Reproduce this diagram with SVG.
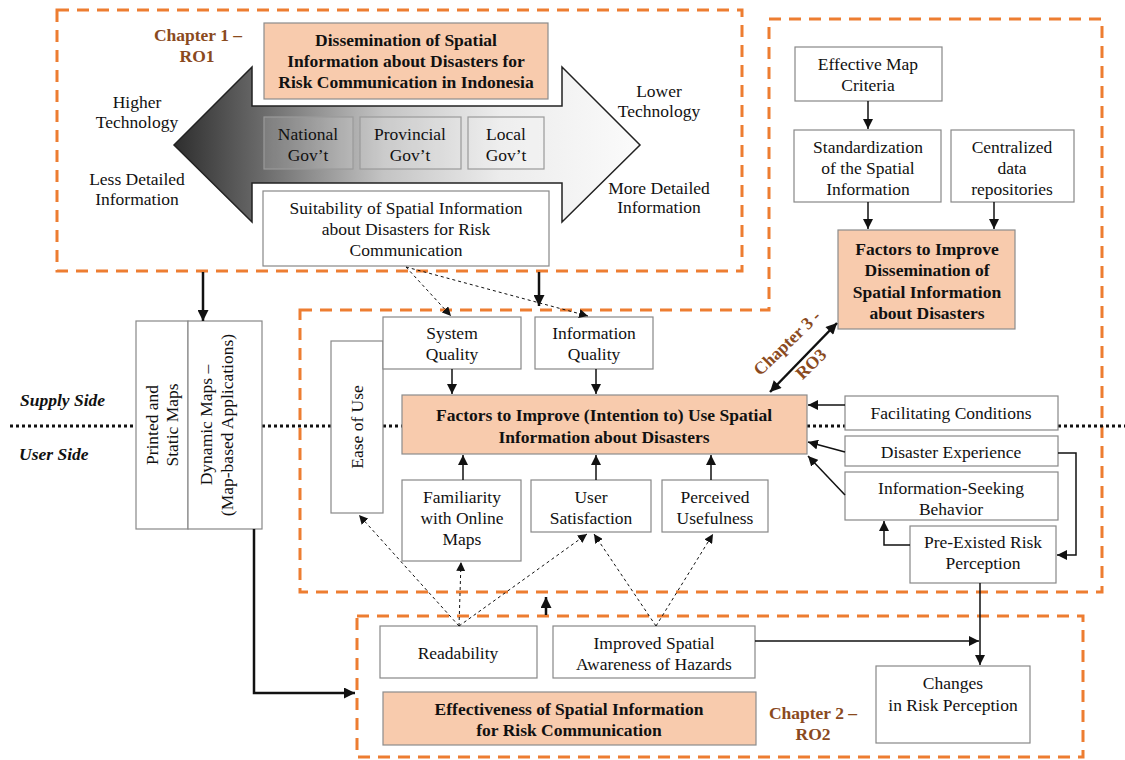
<svg xmlns="http://www.w3.org/2000/svg" width="1125" height="760" viewBox="0 0 1125 760" font-family="'Liberation Serif', 'DejaVu Serif', serif">
<defs>
<style>
text{font-family:'Liberation Serif','DejaVu Serif',serif;font-size:17.5px;fill:#111;text-anchor:middle}
.b{font-weight:bold}
.ch{font-weight:bold;fill:#8a4a1e;font-size:17.5px}
.si{font-weight:bold;font-style:italic;text-anchor:start}
.box{fill:#fff;stroke:#888;stroke-width:1.2}
.or{fill:#f8cbad;stroke:#8c8c8c;stroke-width:1.2}
.gov{fill:#fff;fill-opacity:0.12;stroke:#9a9a9a;stroke-width:1.2}
.dash{fill:none;stroke:#ed7d31;stroke-width:3;stroke-dasharray:12 8}
.dot{fill:none;stroke:#111;stroke-width:3;stroke-dasharray:3 3}
.ln{fill:none;stroke:#111;stroke-width:1.5}
.thk{fill:none;stroke:#111;stroke-width:2.5}
.dsh{fill:none;stroke:#111;stroke-width:1;stroke-dasharray:3 3}
</style>
<linearGradient id="grad" x1="174" y1="0" x2="640" y2="0" gradientUnits="userSpaceOnUse">
<stop offset="0" stop-color="#2e2e2e"/>
<stop offset="0.2" stop-color="#6e6e6e"/>
<stop offset="0.45" stop-color="#c4c4c4"/>
<stop offset="0.7" stop-color="#ececec"/>
<stop offset="1" stop-color="#fbfbfb"/>
</linearGradient>
<marker id="a" viewBox="0 0 10 10" refX="10" refY="5" markerWidth="10" markerHeight="10" markerUnits="userSpaceOnUse" orient="auto-start-reverse"><path d="M0,0 L10,5 L0,10 z" fill="#111"/></marker>
<marker id="at" viewBox="0 0 10 10" refX="10" refY="5" markerWidth="12" markerHeight="11" markerUnits="userSpaceOnUse" orient="auto-start-reverse"><path d="M0,0 L10,5 L0,10 z" fill="#111"/></marker>
<marker id="ad" viewBox="0 0 10 10" refX="10" refY="5" markerWidth="9" markerHeight="9" markerUnits="userSpaceOnUse" orient="auto"><path d="M0,0 L10,5 L0,10 z" fill="#111"/></marker>
</defs>
<rect width="1125" height="760" fill="#fff"/>

<g id="regions">
<rect class="dash" x="57" y="10" width="685" height="261"/>
<path class="dash" d="M300,310 L769,310 L769,19 L1102,19 L1102,592 L300,592 Z"/>
<rect class="dash" x="357" y="616" width="726" height="141"/>
</g>

<g id="divider">
<line class="dot" x1="10" y1="426" x2="136" y2="426"/>
<line class="dot" x1="262" y1="426" x2="331" y2="426"/>
<line class="dot" x1="383" y1="426" x2="402" y2="426"/>
<line class="dot" x1="807" y1="426" x2="845" y2="426"/>
<line class="dot" x1="1058" y1="426" x2="1125" y2="426"/>
<text class="si" x="20" y="406">Supply Side</text>
<text class="si" x="19" y="460">User Side</text>
</g>

<g id="chapter1">
<polygon points="174,145 252,67 252,106 562,106 562,67 640,145 562,222 562,183 252,183 252,222" fill="url(#grad)" stroke="#222" stroke-width="1.5"/>
<text class="ch" x="198" y="41">Chapter 1 –</text>
<text class="ch" x="197" y="62">RO1</text>
<text x="137" y="108">Higher</text>
<text x="137" y="128">Technology</text>
<text x="137" y="185">Less Detailed</text>
<text x="137" y="205">Information</text>
<text x="659" y="97">Lower</text>
<text x="659" y="117">Technology</text>
<text x="659" y="194">More Detailed</text>
<text x="659" y="213">Information</text>
</g>

<g id="n-dissemination">
<rect class="or" x="264" y="23" width="284" height="76"/>
<text class="b" x="406" y="46">Dissemination of Spatial</text>
<text class="b" x="406" y="67">Information about Disasters for</text>
<text class="b" x="406" y="88">Risk Communication in Indonesia</text>
</g>
<g id="n-national"><rect class="gov" x="264" y="117" width="89" height="52"/><text x="308" y="140">National</text><text x="308" y="161">Gov’t</text></g>
<g id="n-provincial"><rect class="gov" x="360" y="117" width="101" height="52"/><text x="410" y="140">Provincial</text><text x="410" y="161">Gov’t</text></g>
<g id="n-local"><rect class="gov" x="468" y="117" width="76" height="52"/><text x="506" y="140">Local</text><text x="506" y="161">Gov’t</text></g>
<g id="n-suitability">
<rect class="box" x="263" y="191" width="286" height="75"/>
<text x="406" y="214">Suitability of Spatial Information</text>
<text x="406" y="235">about Disasters for Risk</text>
<text x="406" y="256">Communication</text>
</g>

<g id="n-effective"><rect class="box" x="795" y="47" width="147" height="54"/><text x="868" y="70">Effective Map</text><text x="868" y="91">Criteria</text></g>
<g id="n-standard"><rect class="box" x="794" y="130" width="147" height="72"/><text x="868" y="153">Standardization</text><text x="868" y="174">of the Spatial</text><text x="868" y="195">Information</text></g>
<g id="n-central"><rect class="box" x="951" y="130" width="123" height="72"/><text x="1012" y="153">Centralized</text><text x="1012" y="174">data</text><text x="1012" y="195">repositories</text></g>
<g id="n-factors-dissem">
<rect class="or" x="838" y="230" width="177" height="99"/>
<text class="b" x="927" y="255">Factors to Improve</text>
<text class="b" x="927" y="276">Dissemination of</text>
<text class="b" x="927" y="298">Spatial Information</text>
<text class="b" x="927" y="319">about Disasters</text>
</g>
<g id="chapter3-label">
<text class="ch" transform="translate(791,347) rotate(-44)">Chapter 3 -</text>
<text class="ch" transform="translate(815,368) rotate(-44)">RO3</text>
</g>

<g id="n-maps">
<rect class="box" x="136" y="321" width="52" height="208"/>
<rect class="box" x="188" y="321" width="74" height="208"/>
<text transform="translate(152,425) rotate(-90)" dy="6">Printed and</text>
<text transform="translate(172,425) rotate(-90)" dy="6">Static Maps</text>
<text transform="translate(206,425) rotate(-90)" dy="6">Dynamic Maps –</text>
<text transform="translate(227,425) rotate(-90)" dy="6">(Map-based Applications)</text>
</g>

<g id="n-ease"><rect class="box" x="331" y="341" width="52" height="172"/><text transform="translate(357,427) rotate(-90)" dy="6">Ease of Use</text></g>
<g id="n-system"><rect class="box" x="383" y="317" width="138" height="52"/><text x="452" y="339">System</text><text x="452" y="360">Quality</text></g>
<g id="n-info"><rect class="box" x="535" y="317" width="118" height="52"/><text x="594" y="339">Information</text><text x="594" y="360">Quality</text></g>
<g id="n-factors-use">
<rect class="or" x="402" y="395" width="405" height="59"/>
<text class="b" x="604" y="421">Factors to Improve (Intention to) Use Spatial</text>
<text class="b" x="604" y="443">Information about Disasters</text>
</g>
<g id="n-familiarity"><rect class="box" x="402" y="480" width="119" height="81"/><text x="462" y="503">Familiarity</text><text x="462" y="524">with Online</text><text x="462" y="545">Maps</text></g>
<g id="n-satisfaction"><rect class="box" x="531" y="480" width="120" height="52"/><text x="591" y="503">User</text><text x="591" y="524">Satisfaction</text></g>
<g id="n-usefulness"><rect class="box" x="662" y="480" width="106" height="52"/><text x="715" y="503">Perceived</text><text x="715" y="524">Usefulness</text></g>
<g id="n-facilitating"><rect class="box" x="845" y="396" width="213" height="34"/><text x="951" y="419">Facilitating Conditions</text></g>
<g id="n-experience"><rect class="box" x="845" y="436" width="213" height="30"/><text x="951" y="458">Disaster Experience</text></g>
<g id="n-seeking"><rect class="box" x="845" y="472" width="213" height="48"/><text x="951" y="494">Information-Seeking</text><text x="951" y="515">Behavior</text></g>
<g id="n-preexisted"><rect class="box" x="910" y="526" width="146" height="57"/><text x="983" y="548">Pre-Existed Risk</text><text x="983" y="569">Perception</text></g>

<g id="n-readability"><rect class="box" x="380" y="626" width="157" height="52"/><text x="458" y="659">Readability</text></g>
<g id="n-awareness"><rect class="box" x="553" y="626" width="202" height="52"/><text x="654" y="649">Improved Spatial</text><text x="654" y="670">Awareness of Hazards</text></g>
<g id="n-effectiveness">
<rect class="or" x="383" y="692" width="373" height="53"/>
<text class="b" x="569" y="715">Effectiveness of Spatial Information</text>
<text class="b" x="569" y="736">for Risk Communication</text>
</g>
<g id="n-changes"><rect class="box" x="876" y="666" width="154" height="77"/><text x="953" y="689">Changes</text><text x="953" y="711">in Risk Perception</text></g>
<g id="chapter2-label"><text class="ch" x="813" y="719">Chapter 2 –</text><text class="ch" x="813" y="740">RO2</text></g>

<g id="connectors">
<line class="thk" x1="203" y1="272" x2="203" y2="321" marker-end="url(#at)"/>
<line class="thk" x1="539" y1="272" x2="539" y2="306" marker-end="url(#at)"/>
<line class="dsh" x1="406" y1="267" x2="451" y2="316" marker-end="url(#ad)"/>
<line class="dsh" x1="406" y1="267" x2="588" y2="316" marker-end="url(#ad)"/>
<line class="ln" x1="868" y1="101" x2="868" y2="129" marker-end="url(#a)"/>
<line class="ln" x1="868" y1="202" x2="868" y2="229" marker-end="url(#a)"/>
<line class="ln" x1="994" y1="202" x2="994" y2="229" marker-end="url(#a)"/>
<line class="thk" x1="770" y1="392" x2="837" y2="323" marker-start="url(#at)" marker-end="url(#at)"/>
<line class="ln" x1="452" y1="369" x2="452" y2="394" marker-end="url(#a)"/>
<line class="ln" x1="596" y1="369" x2="596" y2="394" marker-end="url(#a)"/>
<line class="ln" x1="463" y1="480" x2="463" y2="455" marker-end="url(#a)"/>
<line class="ln" x1="596" y1="480" x2="596" y2="455" marker-end="url(#a)"/>
<line class="ln" x1="711" y1="480" x2="711" y2="455" marker-end="url(#a)"/>
<line class="ln" x1="845" y1="405" x2="808" y2="405" marker-end="url(#a)"/>
<line class="ln" x1="845" y1="452" x2="808" y2="442" marker-end="url(#a)"/>
<line class="ln" x1="845" y1="495" x2="808" y2="456" marker-end="url(#a)"/>
<polyline class="ln" points="1058,453 1076,453 1076,555 1057,555" marker-end="url(#a)"/>
<polyline class="ln" points="910,545 884,545 884,521" marker-end="url(#a)"/>
<polyline class="thk" points="254,529 254,693 355,693" marker-end="url(#at)"/>
<line class="thk" x1="546" y1="615" x2="546" y2="597" marker-end="url(#at)"/>
<line class="dsh" x1="459" y1="626" x2="359" y2="515" marker-end="url(#ad)"/>
<line class="dsh" x1="459" y1="626" x2="461" y2="562" marker-end="url(#ad)"/>
<line class="dsh" x1="459" y1="626" x2="587" y2="534" marker-end="url(#ad)"/>
<line class="dsh" x1="656" y1="626" x2="594" y2="534" marker-end="url(#ad)"/>
<line class="dsh" x1="656" y1="626" x2="713" y2="534" marker-end="url(#ad)"/>
<line class="ln" x1="755" y1="641" x2="979" y2="641" marker-end="url(#a)"/>
<line class="ln" x1="980" y1="583" x2="980" y2="665" marker-end="url(#a)"/>
</g>
</svg>
